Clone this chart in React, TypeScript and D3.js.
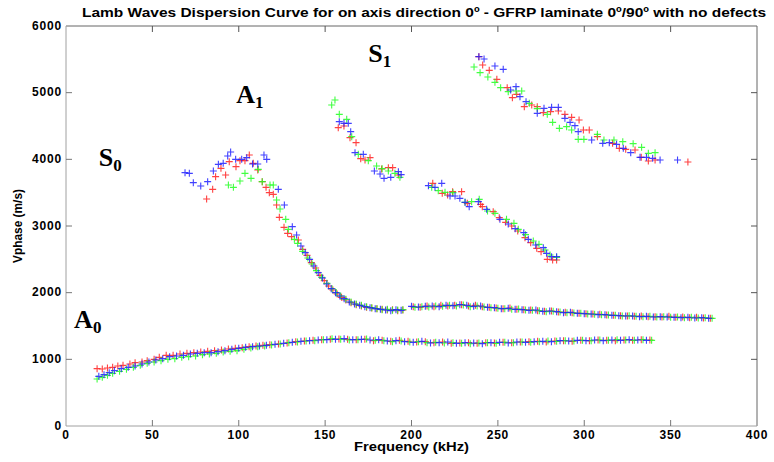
import React, { useEffect, useRef } from 'react';
import * as d3 from 'd3';

// [frequency kHz, phase velocity m/s]

const redA0 = [[18,860],[21,855],[24,870],[27,880],[30,900],[33,910],[37,930],[40,950],[44,960],[47,980],[51,1000],[54,1030],[58,1060],[62,1060],[66,1080],[70,1090],[74,1100],[78,1110],[82,1120],[86,1130],[90,1140],[94,1155],[98,1165],[102,1175],[106,1190],[110,1200],[114,1210],[118,1220],[123,1230],[128,1245],[133,1265],[138,1275],[143,1285],[148,1295],[153,1300],[158,1305],[163,1300],[168,1295],[173,1300],[178,1280],[183,1285],[188,1270],[193,1285],[198,1270],[203,1260],[208,1265],[213,1250],[218,1260],[223,1240],[228,1245],[233,1250],[238,1240],[243,1250],[248,1245],[253,1255],[258,1250],[263,1260],[268,1265],[273,1270],[278,1260],[283,1275],[288,1280],[293,1270],[298,1285],[303,1280],[308,1290],[313,1285],[318,1280],[323,1290],[328,1285],[333,1295],[338,1290]];
const greenA0 = [[18,705],[21,730],[24,760],[27,790],[31,820],[35,850],[39,880],[43,910],[47,940],[51,960],[55,980],[59,1000],[63,1010],[67,1030],[71,1040],[75,1050],[79,1070],[83,1080],[87,1090],[91,1110],[95,1120],[99,1130],[103,1150],[107,1170],[111,1190],[115,1200],[119,1215],[124,1230],[129,1250],[134,1260],[139,1275],[144,1280],[149,1295],[154,1310],[159,1300],[164,1290],[169,1295],[174,1305],[179,1285],[184,1280],[189,1265],[194,1275],[199,1260],[204,1265],[209,1250],[214,1255],[219,1245],[224,1250],[229,1240],[234,1235],[239,1245],[244,1250],[249,1240],[254,1255],[259,1250],[264,1260],[269,1255],[274,1265],[279,1275],[284,1270],[289,1280],[294,1275],[299,1285],[304,1280],[309,1290],[314,1285],[319,1295],[324,1290],[329,1285],[334,1295],[339,1285]];
const blueA0 = [[19,745],[22,770],[25,800],[28,830],[32,860],[36,880],[40,900],[44,930],[48,960],[52,990],[56,1010],[60,1040],[64,1050],[68,1060],[72,1080],[76,1090],[80,1100],[84,1100],[88,1115],[92,1130],[96,1150],[100,1165],[104,1180],[108,1190],[112,1200],[116,1210],[121,1225],[126,1240],[131,1255],[136,1270],[141,1280],[146,1290],[151,1295],[156,1300],[161,1310],[166,1295],[171,1300],[176,1290],[181,1295],[186,1275],[191,1280],[196,1265],[201,1255],[206,1270],[211,1245],[216,1250],[221,1260],[226,1240],[231,1250],[236,1245],[241,1235],[246,1250],[251,1255],[256,1245],[261,1260],[266,1255],[271,1265],[276,1270],[281,1265],[286,1280],[291,1275],[296,1285],[301,1280],[306,1290],[311,1280],[316,1290],[321,1285],[326,1295],[331,1290],[336,1285]];

const redS0 = [[81.4,3405],[84.9,3550],[86.6,3740],[89.7,3865],[92.4,3765],[94.5,3965],[98.4,3890],[100.7,3980],[103.6,3980],[106.1,4065],[108.4,3940],[111,3840],[113.6,3665],[115.8,3580],[117.7,3500],[120,3475],[121.9,3315],[123.5,3130],[126.2,2980],[128.3,2890],[130.6,2840],[134.5,2790],[137,2650],[139.5,2560],[142,2450],[144.5,2370],[147,2260],[149.5,2180],[152,2100],[154.5,2040],[157,1980],[159.5,1930],[162,1890],[165,1850],[168,1820],[171,1800],[174,1780],[177,1770],[180,1760],[183,1750],[186,1740],[189,1745],[192,1730],[195,1740],[201,1790],[205,1780],[209,1800],[213,1790],[217,1810],[221,1800],[225,1810],[229,1820],[233,1800],[237,1810],[241,1790],[245,1780],[249,1770],[253,1760],[257,1770],[261,1750],[265,1745],[269,1740],[273,1730],[277,1720],[281,1725],[285,1710],[289,1705],[293,1700],[297,1690],[301,1685],[305,1680],[309,1675],[313,1665],[317,1660],[321,1655],[325,1650],[329,1645],[333,1650],[337,1640],[341,1640],[345,1635],[349,1645],[353,1630],[357,1635],[361,1625],[365,1630],[369,1620],[373,1615]];
const greenS0 = [[94,3615],[96.9,3580],[100.7,3675],[103.6,3790],[107.1,3715],[111.3,3850],[113.6,3665],[118.1,3615],[120,3615],[121.9,3390],[123.9,3255],[127.2,3100],[128.7,2950],[132.2,2800],[134.1,2740],[137,2620],[140,2520],[142.5,2430],[145,2330],[148,2230],[151,2140],[154,2060],[156.5,2000],[159,1950],[162,1900],[165,1860],[168,1830],[171,1810],[174,1790],[177,1775],[180,1760],[183,1745],[186,1750],[189,1735],[192,1740],[195,1745],[202,1780],[206,1790],[210,1785],[214,1800],[218,1795],[222,1810],[226,1800],[230,1815],[234,1790],[238,1800],[242,1785],[246,1775],[250,1765],[254,1760],[258,1750],[262,1755],[266,1740],[270,1735],[274,1730],[278,1715],[282,1720],[286,1710],[290,1700],[294,1695],[298,1690],[302,1680],[306,1675],[310,1670],[314,1665],[318,1660],[322,1650],[326,1655],[330,1645],[334,1640],[338,1645],[342,1635],[346,1640],[350,1630],[354,1635],[358,1625],[362,1630],[366,1620],[370,1625],[374,1615]];
const blueS0 = [[68.9,3800],[71.4,3790],[73.7,3650],[78,3600],[82,3665],[85.3,3825],[88.2,3925],[91,3940],[93.6,4050],[95.3,4110],[98.2,4000],[101.7,4000],[104.6,4025],[108,3930],[111,3930],[114.6,4065],[116.2,4000],[122.9,3550],[126.4,3315],[131,2990],[133.5,2865],[136,2700],[138.5,2600],[141,2500],[143.5,2400],[146,2300],[148.5,2220],[151,2130],[153.5,2060],[156,2000],[158.5,1950],[161,1910],[164,1860],[167,1830],[170,1810],[173,1790],[176,1775],[179,1760],[182,1750],[185,1740],[188,1730],[191,1745],[194,1735],[200,1795],[204,1785],[208,1795],[212,1800],[216,1790],[220,1810],[224,1805],[228,1820],[232,1810],[236,1795],[240,1800],[244,1780],[248,1775],[252,1760],[256,1765],[260,1750],[264,1745],[268,1735],[272,1740],[276,1720],[280,1725],[284,1715],[288,1700],[292,1705],[296,1690],[300,1685],[304,1680],[308,1670],[312,1670],[316,1660],[320,1655],[324,1650],[328,1650],[332,1640],[336,1645],[340,1635],[344,1640],[348,1635],[352,1630],[356,1625],[360,1630],[364,1620],[368,1625],[372,1615]];

const redS1 = [[157.6,4475],[160.9,4500],[164.4,4325],[167.9,4250],[170.6,4010],[173.1,3990],[176,4025],[182.7,3855],[186.6,3875],[189.1,3875],[192.4,3765],
  [212.3,3640],[217.8,3490],[220.9,3465],[223.8,3515],[229,3515],[232.3,3340],[240,3325],[241,3290],[247.3,3215],[250.8,3125],[254.5,3055],[258,3000],[261.5,2925],[265.7,2825],[269,2750],[272.5,2665],[275,2615],[278.6,2500],[281.7,2490],[284,2490],
  [239,5540],[241.2,5415],[245,5335],[249.4,5200],[255.4,5075],[258.4,4925],[260.9,4975],[265.3,4790],[269.6,4815],[272.8,4790],[276.3,4700],[280.5,4715],[285,4725],[288.8,4675],[292.7,4630],[297,4590],[299.5,4440],[302.9,4440],[307.6,4340],[316.4,4240],[320.3,4165],[324,4150],[329.4,4140],[333,4030],[337.1,3975],[341,3990],[360,3960]];
const greenS1 = [[153.8,4815],[155.7,4890],[158.2,4675],[162.5,4600],[165.4,4340],[169.2,4075],[175,3980],[179.8,3900],[183,3860],[186.6,3825],[190.4,3790],[193.3,3730],
  [211.7,3580],[215.5,3530],[219.4,3505],[224,3500],[231,3355],[234.8,3365],[239.2,3400],[244,3225],[248.3,3190],[255,3100],[259.3,3040],[261.8,2950],[266,2870],[270.5,2775],[273.8,2725],[277.3,2640],[280.2,2565],[284,2530],
  [236.2,5385],[239.7,5300],[244.2,5235],[248.3,5155],[251.6,5075],[256,5015],[260.5,5025],[263.8,5025],[268.2,4840],[272.8,4760],[278.6,4675],[281.7,4555],[285.6,4465],[289.8,4490],[292.7,4440],[296.5,4300],[299.8,4300],[307.6,4375],[311.4,4290],[317.2,4290],[322.3,4265],[328.3,4235],[333.2,4180],[337.1,4090],[341,4100]];
const blueS1 = [[158.2,4565],[160.9,4540],[163.4,4540],[164.8,4415],[167.3,4100],[172.1,4075],[178.5,3825],[181.8,3780],[184.1,3715],[188,3730],[192.4,3815],[194,3770],
  [209.8,3605],[213.6,3580],[217.5,3640],[222.3,3450],[225.2,3450],[228,3415],[231,3355],[233.4,3290],[238.7,3365],[243.5,3250],[251.2,3100],[256,3030],[260,2960],[265,2900],[267.6,2800],[271.9,2715],[276.3,2675],[278.2,2590],[281.1,2540],[284,2540],
  [239,5540],[242,5505],[248.3,5400],[253.1,5350],[257.4,5040],[260.5,5090],[262.8,4940],[266.3,4865],[272.8,4690],[276.7,4765],[281.1,4780],[285,4780],[288.8,4615],[291.8,4555],[294.6,4505],[296.5,4415],[304.3,4290],[310.7,4240],[314.5,4250],[318.7,4225],[322.6,4165],[326.9,4100],[332.3,4030],[336,4030],[339.6,4015],[343.9,3990],[354,3990]];

const xTicks = [0, 50, 100, 150, 200, 250, 300, 350, 400];
const yTicks = [0, 1000, 2000, 3000, 4000, 5000, 6000];

const series = [
  { color: '#ff2020', points: [...redA0, ...redS0, ...redS1] },
  { color: '#20ff20', points: [...greenA0, ...greenS0, ...greenS1] },
  { color: '#2020ff', points: [...blueA0, ...blueS0, ...blueS1] },
];

const modeLabels = [
  { name: 'S', sub: '0', f: 19, v: 3900 },
  { name: 'A', sub: '1', f: 98.5, v: 4850 },
  { name: 'S', sub: '1', f: 175, v: 5460 },
  { name: 'A', sub: '0', f: 4.7, v: 1470 },
];

const title = 'Lamb Waves Dispersion Curve for on axis direction 0º - GFRP laminate 0º/90º with no defects';

export default function App() {
  const ref = useRef<SVGSVGElement>(null);

  useEffect(() => {
    const svg = d3.select(ref.current);
    svg.selectAll('*').remove();

    const margin = { top: 26, right: 17, bottom: 36, left: 66 };
    const width = 774 - margin.left - margin.right;
    const height = 462 - margin.top - margin.bottom;

    const x = d3.scaleLinear().domain([0, 400]).range([0, width]);
    const y = d3.scaleLinear().domain([0, 6000]).range([height, 0]);

    const g = svg.append('g').attr('transform', `translate(${margin.left},${margin.top})`);
    const font = 'Arial, "Liberation Sans", sans-serif';

    // markers
    const s = 3.5;
    series.forEach((ser) => {
      g.append('g')
        .selectAll('path')
        .data(ser.points)
        .enter()
        .append('path')
        .attr('d', (d) => {
          const px = x(d[0]), py = y(d[1]);
          return `M${px - s},${py}H${px + s}M${px},${py - s}V${py + s}`;
        })
        .attr('stroke', ser.color)
        .attr('stroke-width', 1.1)
        .attr('stroke-opacity', 0.85)
        .attr('fill', 'none');
    });

    // box
    g.append('line').attr('x1', 0).attr('x2', width).attr('y1', 0).attr('y2', 0).attr('stroke', '#666');
    g.append('line').attr('x1', width).attr('x2', width).attr('y1', 0).attr('y2', height).attr('stroke', '#666');
    g.append('line').attr('x1', 0).attr('x2', width).attr('y1', height).attr('y2', height).attr('stroke', '#a0a0a0');
    g.append('line').attr('x1', 0).attr('x2', 0).attr('y1', 0).attr('y2', height).attr('stroke', '#a0a0a0');

    const tl = 6;
    xTicks.slice(1, -1).forEach((t) => {
      g.append('line').attr('x1', x(t)).attr('x2', x(t)).attr('y1', height).attr('y2', height - tl).attr('stroke', '#777');
      g.append('line').attr('x1', x(t)).attr('x2', x(t)).attr('y1', 0).attr('y2', tl).attr('stroke', '#555');
    });
    yTicks.slice(1, -1).forEach((t) => {
      g.append('line').attr('x1', 0).attr('x2', tl).attr('y1', y(t)).attr('y2', y(t)).attr('stroke', '#777');
      g.append('line').attr('x1', width).attr('x2', width - tl).attr('y1', y(t)).attr('y2', y(t)).attr('stroke', '#555');
    });

    g.selectAll('.xl')
      .data(xTicks)
      .enter()
      .append('text')
      .attr('x', (d) => x(d))
      .attr('y', height + 12.5)
      .attr('text-anchor', 'middle')
      .attr('font-family', font)
      .attr('font-weight', 'bold')
      .attr('font-size', 12)
      .attr('letter-spacing', 0.8)
      .text((d) => d);

    g.selectAll('.yl')
      .data(yTicks)
      .enter()
      .append('text')
      .attr('x', -4)
      .attr('y', (d) => y(d) + 3.7)
      .attr('text-anchor', 'end')
      .attr('font-family', font)
      .attr('font-weight', 'bold')
      .attr('font-size', 12)
      .attr('letter-spacing', 0.8)
      .text((d) => d);

    svg.append('text')
      .attr('x', 82)
      .attr('y', 17)
      .attr('font-family', font)
      .attr('font-weight', 'bold')
      .attr('font-size', 12)
      .attr('textLength', 684)
      .attr('lengthAdjust', 'spacingAndGlyphs')
      .text(title);

    svg.append('text')
      .attr('x', margin.left + width / 2)
      .attr('y', 451)
      .attr('text-anchor', 'middle')
      .attr('font-family', font)
      .attr('font-weight', 'bold')
      .attr('font-size', 12)
      .attr('textLength', 115)
      .attr('lengthAdjust', 'spacingAndGlyphs')
      .text('Frequency (kHz)');

    svg.append('text')
      .attr('transform', `translate(21.5,${margin.top + height / 2}) rotate(-90)`)
      .attr('text-anchor', 'middle')
      .attr('font-family', font)
      .attr('font-weight', 'bold')
      .attr('font-size', 12)
      .attr('textLength', 74)
      .attr('lengthAdjust', 'spacingAndGlyphs')
      .text('Vphase (m/s)');

    modeLabels.forEach((m) => {
      const t = g.append('text')
        .attr('x', x(m.f))
        .attr('y', y(m.v))
        .attr('font-family', '"Liberation Serif", "Times New Roman", serif')
        .attr('font-weight', 'bold')
        .attr('font-size', 26);
      t.append('tspan').text(m.name);
      t.append('tspan').attr('font-size', 17).attr('dy', 5).text(m.sub);
    });
  }, []);

  return (
    <svg
      ref={ref}
      width={774}
      height={462}
      viewBox="0 0 774 462"
      style={{ position: 'absolute', left: 0, top: 0, background: '#fff' }}
    />
  );
}
